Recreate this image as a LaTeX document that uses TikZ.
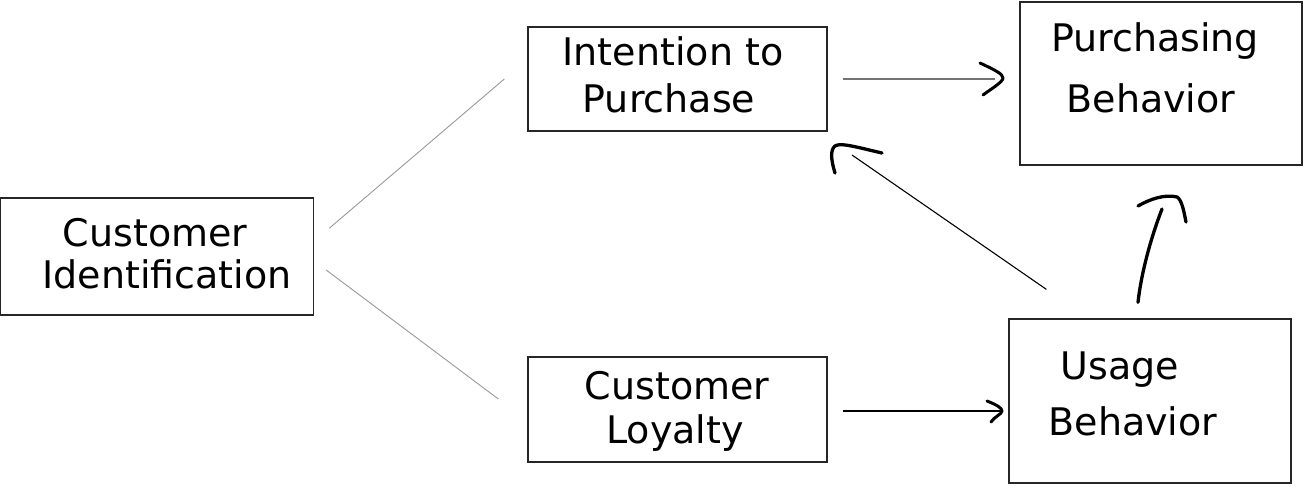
\documentclass[tikz,border=0pt]{standalone}
\usepackage{fontspec}
\setmainfont{DejaVu Sans}
\usetikzlibrary{calc}
\begin{document}
\begin{tikzpicture}[x=1pt,y=-1pt,
  box/.style={draw=black!85,line width=1.3pt,inner sep=0pt,minimum width=#1},
  lbl/.style={anchor=base,inner sep=0pt,font=\fontsize{38}{45}\selectfont},
  thin/.style={draw=black!40,line width=0.9pt},
  arr/.style={draw=black,line width=1.1pt},
  hand/.style={draw=black,line width=3.3pt,line cap=round,line join=round}]
\useasboundingbox (0,0) rectangle (1304,485);
\fill[white] (0,0) rectangle (1304,485);
% boxes
\node[box=313pt,minimum height=117pt] (ci) at (157,256.5) {};
\node[box=299pt,minimum height=104pt] (ip) at (677.5,79) {};
\node[box=282pt,minimum height=163pt] (pb) at (1161,83.5) {};
\node[box=299pt,minimum height=105pt] (cl) at (677.5,409.5) {};
\node[box=282pt,minimum height=164pt] (ub) at (1150,401) {};
% labels
\node[lbl] (ci1) at (155,246) {Customer};
\node[lbl] (ci2) at (167,288) {Identification};
\node[lbl] (ip1) at (673,65) {Intention to};
\node[lbl] (ip2) at (669,112) {Purchase};
\node[lbl] (pb1) at (1155,51) {Purchasing};
\node[lbl] (pb2) at (1151,112) {Behavior};
\node[lbl] (cl1) at (677,399) {Customer};
\node[lbl] (cl2) at (675,443) {Loyalty};
\node[lbl] (ub1) at (1120,379) {Usage};
\node[lbl] (ub2) at (1133,435) {Behavior};
% thin connectors
\draw[thin] ($(ci.north east)+(15,31)$) -- ($(ip.west)+(-23,0)$);
\draw[thin] ($(ci.east)+(12,13.5)$) -- ($(cl.west)+(-29,-10.5)$);
% intention -> purchasing
\coordinate (t1) at (1003,78);
\draw[draw=black!55,line width=1.2pt] ($(ip.east)+(15,0)$) -- ($(t1)+(-8,1)$);
\draw[hand,line width=3pt] ($(t1)+(-23,-15)$) .. controls ($(t1)+(-8,-8)$) and ($(t1)+(0,-4)$) .. (t1)
   .. controls ($(t1)+(0,4)$) and ($(t1)+(-12,11)$) .. ($(t1)+(-20,17)$);
% loyalty -> usage
\coordinate (t2) at (1002,411);
\draw[arr] ($(cl.east)+(15,1.5)$) -- (t2);
\draw[hand,line width=3pt] ($(t2)+(-15,-10)$) .. controls ($(t2)+(-5,-6)$) and ($(t2)+(0,-3)$) .. ($(t2)+(0,0)$)
   .. controls ($(t2)+(0,3)$) and ($(t2)+(-8,6)$) .. ($(t2)+(-11,11)$);
% usage -> intention
\coordinate (t3) at (852,155);
\draw[arr] ($(ub.north west)+(38,-29)$) -- (t3);
\draw[hand] (835,173) .. controls (831,160) and (830,150) .. (835,146)
   .. controls (840,142) and (860,148) .. (882,153);
% usage -> purchasing
\coordinate (t4) at (1162,209);
\draw[hand] ($(ub.north)+(-12,-16)$) .. controls (1141,275) and (1150,240) .. (t4);
\draw[hand] (1138,206) .. controls (1150,199) and (1165,194) .. (1177,197)
   .. controls (1182,200) and (1184,212) .. (1186,222);
\end{tikzpicture}
\end{document}
